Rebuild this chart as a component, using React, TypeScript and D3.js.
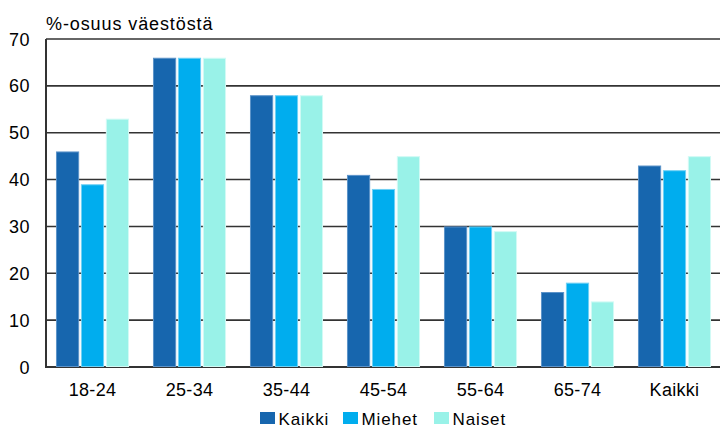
import React from "react";
import * as d3 from "d3";

const categories = ["18-24", "25-34", "35-44", "45-54", "55-64", "65-74", "Kaikki"];
const seriesNames = ["Kaikki", "Miehet", "Naiset"];
const kaikki = [46, 66, 58, 41, 30, 16, 43];
const miehet = [39, 66, 58, 38, 30, 18, 42];
const naiset = [53, 66, 58, 45, 29, 14, 45];
const yTicks = [0, 10, 20, 30, 40, 50, 60, 70];
const colors = ["#1766AE", "#00ADEE", "#99F2E8"];
const strokes = ["#5C93C9", "#6FD0F4", "#D2FAF5"];
const unitLabel = "%-osuus väestöstä";

const W = 720;
const H = 428;
const left = 46;
const top = 39;
const bottom = 367;

export default function App() {
  const values = [kaikki, miehet, naiset];
  const x = d3.scaleBand<string>().domain(categories).range([44, 723]).paddingInner(0.247).paddingOuter(0.1235);
  const xs = d3.scaleBand<string>().domain(seriesNames).range([0, x.bandwidth()]).paddingInner(0.07);
  const y = d3.scaleLinear().domain([0, 70]).range([bottom, top]);
  const font = "'Liberation Sans', Arial, sans-serif";
  const legendX = [260, 343, 434];
  return (
    <svg width={W} height={H} style={{ position: "absolute", left: 0, top: 0 }} fontFamily={font}>
      <rect x={0} y={0} width={W} height={H} fill="#fff" />
      <text x={left} y={30} fontSize={18} letterSpacing={0.9} fill="#000">{unitLabel}</text>
      {yTicks.map((t) => (
        <g key={t}>
          <line x1={left} x2={W} y1={y(t)} y2={y(t)} stroke="#333" strokeWidth={t === 0 ? 2 : 1.6} />
          <text x={30} y={y(t) + 6.5} fontSize={18} letterSpacing={0.5} textAnchor="end" fill="#000">{t}</text>
        </g>
      ))}
      {categories.map((c, i) => (
        <g key={c} transform={`translate(${x(c)},0)`}>
          {seriesNames.map((s, j) => (
            <rect
              key={s}
              x={xs(s)! + 0.5}
              y={y(values[j][i]) + 0.5}
              width={xs.bandwidth() - 1}
              height={y(0) - y(values[j][i]) - 1}
              fill={colors[j]}
              stroke={strokes[j]}
              strokeWidth={1}
            />
          ))}
          <text x={x.bandwidth() / 2} y={396} fontSize={18} letterSpacing={0.3} textAnchor="middle" fill="#000">{c}</text>
        </g>
      ))}
      <line x1={left} x2={left} y1={top} y2={bottom + 1} stroke="#333" strokeWidth={2} />
      {seriesNames.map((s, j) => (
        <g key={s}>
          <rect x={legendX[j]} y={412} width={15} height={12} fill={colors[j]} />
          <text x={legendX[j] + 18.5} y={424.5} fontSize={17} letterSpacing={0.9} fill="#000">{s}</text>
        </g>
      ))}
    </svg>
  );
}
